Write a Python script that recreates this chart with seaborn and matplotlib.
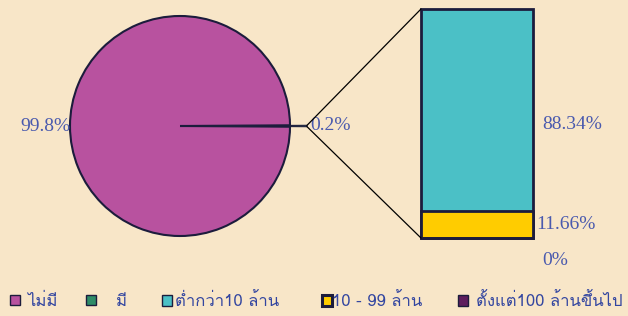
import numpy as np
import pandas as pd
import matplotlib
matplotlib.use("Agg")
import matplotlib.pyplot as plt
import seaborn as sns
from matplotlib import font_manager
from matplotlib.ft2font import FT2Font
from matplotlib.patches import Patch, ConnectionPatch

# ---------------- data ----------------
pie_labels = ["ไม่มี", "มี"]
pie_values = [99.8, 0.2]
bar_labels = ["ต่ำกว่า10 ล้าน", "10 - 99 ล้าน", "ตั้งแต่100 ล้านขึ้นไป"]
bar_values = [88.34, 11.66, 0.0]

# ---------------- style ----------------
BG = "#F8E6C8"
EDGE = "#1C1C3C"
pie_colors = ["#B8529F", "#2E8C68"]
bar_colors = ["#4BC0C6", "#FFCC00", "#5E1E5E"]
LABEL_BLUE = "#4A5AAE"
LEGEND_BLUE = "#3346A0"

sns.set_theme(style="white")


def find_thai_font():
    for f in font_manager.fontManager.ttflist:
        try:
            cm = FT2Font(f.fname).get_charmap()
        except Exception:
            continue
        if 0x0E21 in cm and 0x0E49 in cm:
            return f.name
    return None


thai = find_thai_font()
legend_family = [thai, "DejaVu Sans"] if thai else ["DejaVu Sans"]
plt.rcParams["font.family"] = legend_family

W, H = 628, 316
fig = plt.figure(figsize=(W / 100, H / 100), dpi=100, facecolor=BG)


def px_axes(x0, y0, w, h):
    return fig.add_axes([x0 / W, 1 - (y0 + h) / H, w / W, h / H])


# ---------------- pie ----------------
cx, cy, r = 180, 126, 110
ax_pie = px_axes(cx - r, cy - r, 2 * r, 2 * r)
ax_pie.set_facecolor("none")
explode = [0, 0.155]
pie_texts = [f"{v}%" for v in pie_values]
wedges, texts = ax_pie.pie(
    pie_values, colors=pie_colors, explode=explode, startangle=pie_values[1] * 1.8,
    labels=pie_texts, labeldistance=1.0,
    wedgeprops=dict(edgecolor=EDGE, linewidth=1.5),
    textprops=dict(family="Liberation Serif", size=14, color=LABEL_BLUE),
)
wedges[1].set_linewidth(0.8)
for w in wedges:
    w.set_clip_on(False)
for t in texts:
    t.set_clip_on(False)
texts[1].set_x(texts[1].get_position()[0] + 0.03)
ax_pie.set_xlim(-1, 1)
ax_pie.set_ylim(-1, 1)
ax_pie.set_aspect("equal")
ax_pie.axis("off")

# ---------------- stacked bar ----------------
bx0, by0, bw, bh = 421, 9, 112, 229
ax_bar = px_axes(bx0, by0, bw, bh)
ax_bar.set_facecolor("none")
# stacking order from bottom: ตั้งแต่100, 10-99, ต่ำกว่า10
order = [2, 1, 0]
cum = np.cumsum([bar_values[i] for i in order])
tops = {i: c for i, c in zip(order, cum)}
bottoms = {i: c - bar_values[i] for i, c in zip(order, cum)}
for i in [0, 1, 2]:  # draw tallest cumulative first
    df = pd.DataFrame({"cat": ["x"], "val": [tops[i]]})
    sns.barplot(data=df, x="cat", y="val", color=bar_colors[i], width=1.0,
                saturation=1, edgecolor=EDGE, linewidth=2, ax=ax_bar)
for p in ax_bar.patches:
    p.set_clip_on(False)
ax_bar.set_xlim(-0.5, 0.5)
ax_bar.set_ylim(0, sum(bar_values))
ax_bar.axis("off")

label_offsets = {0: (7, -10), 1: (2, 0), 2: (7, -16)}
for i in [0, 1, 2]:
    mid = (tops[i] + bottoms[i]) / 2
    ax_bar.annotate(f"{bar_values[i]:.2f}%".replace("0.00%", "0%"),
                    xy=(0.5, mid), xytext=label_offsets[i], textcoords="offset points",
                    ha="left", va="center", family="Liberation Serif", size=14,
                    color=LABEL_BLUE, annotation_clip=False)

# ---------------- connector lines ----------------
gw = wedges[1]
gcx, gcy = gw.center
t1, t2 = np.deg2rad(gw.theta1), np.deg2rad(gw.theta2)
p_low = (gcx + gw.r * np.cos(t1), gcy + gw.r * np.sin(t1))
p_high = (gcx + gw.r * np.cos(t2), gcy + gw.r * np.sin(t2))
for pa, pb in [(p_high, (-0.5, sum(bar_values))), (p_low, (-0.5, 0))]:
    con = ConnectionPatch(xyA=pa, coordsA=ax_pie.transData, xyB=pb, coordsB=ax_bar.transData,
                          color="black", linewidth=0.9)
    fig.add_artist(con)

# ---------------- legend ----------------
leg_items = [
    (pie_labels[0], pie_colors[0], 1.0, 10),
    (pie_labels[1], pie_colors[1], 1.0, 86),
    (bar_labels[0], bar_colors[0], 1.0, 162),
    (bar_labels[1], bar_colors[1], 2.2, 322),
    (bar_labels[2], bar_colors[2], 1.0, 458),
]
pads = [0.4, 1.2, 0.2, 0.0, 0.5]
for (lab, col, lw, x), pad in zip(leg_items, pads):
    h = Patch(facecolor=col, edgecolor=EDGE, linewidth=lw)
    fig.legend(handles=[h], labels=[lab], loc="center left",
               bbox_to_anchor=(x / W, 1 - 302 / H), frameon=False,
               handlelength=0.6, handleheight=0.6, handletextpad=pad,
               borderpad=0, borderaxespad=0,
               prop=dict(family=legend_family, size=12), labelcolor=LEGEND_BLUE)

fig.savefig("out.png", dpi=100, facecolor=BG)
print("thai font:", thai)
